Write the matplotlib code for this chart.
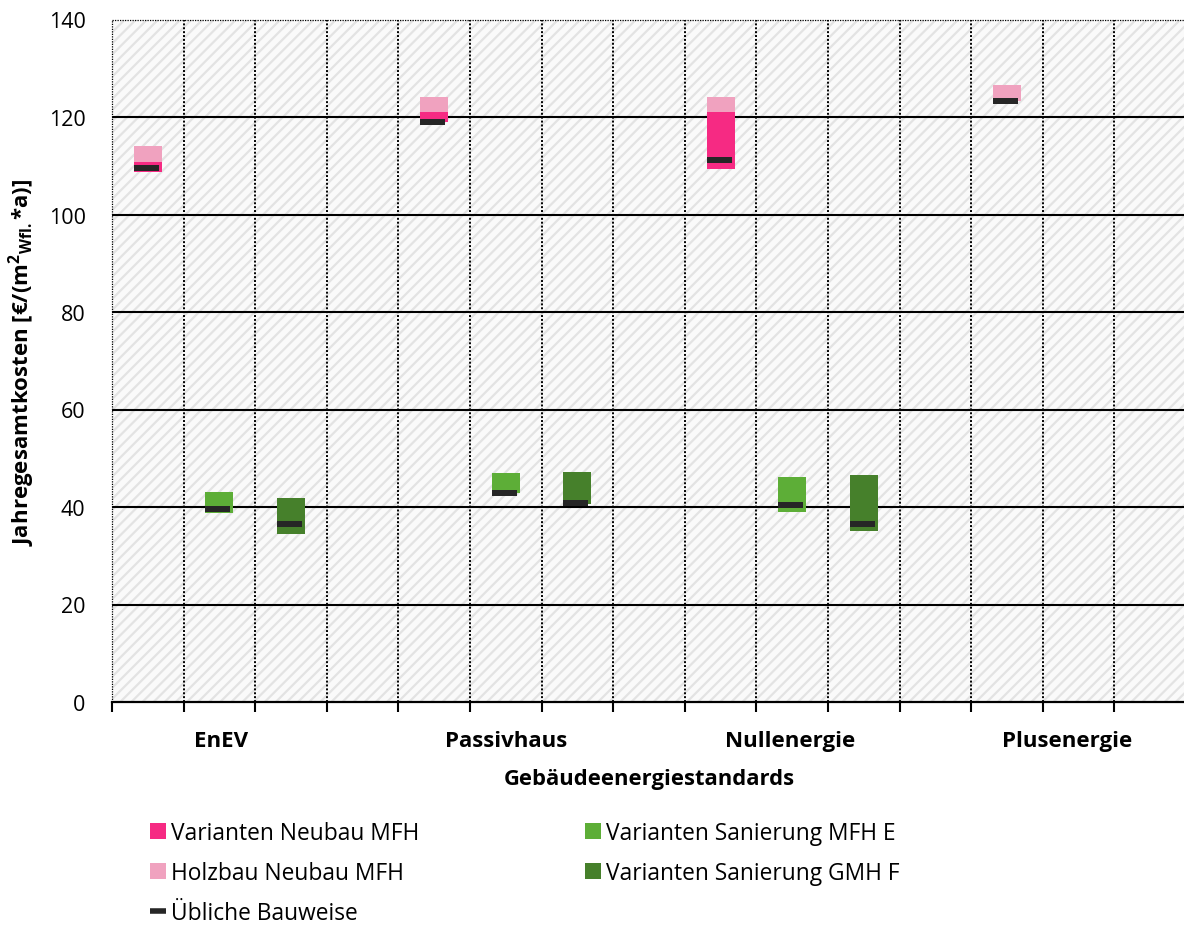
import matplotlib
matplotlib.use("Agg")
import matplotlib.pyplot as plt
import matplotlib.transforms as mtransforms
from matplotlib.patches import Rectangle, Patch
from matplotlib.lines import Line2D
import numpy as np

plt.rcParams['font.family'] = ['Open Sans', 'DejaVu Sans']
plt.rcParams['mathtext.fontset'] = 'custom'
plt.rcParams['mathtext.rm'] = 'Open Sans:bold'
plt.rcParams['mathtext.bf'] = 'Open Sans:bold'
plt.rcParams['hatch.linewidth'] = 1.6

# Building energy standards (x groups)
standards = ["EnEV", "Passivhaus", "Nullenergie", "Plusenergie"]

# Annual total costs in EUR/(m2 living area * a): ranges [low, high] per standard
neubau_lo = [108.7, 119.0, 109.3, np.nan]
neubau_hi = [110.8, 121.0, 121.0, np.nan]
holzbau_lo = [110.8, 121.0, 121.0, 123.3]
holzbau_hi = [114.0, 124.2, 124.2, 126.6]
san_mfh_lo = [38.7, 42.9, 39.0, np.nan]
san_mfh_hi = [43.0, 46.9, 46.1, np.nan]
san_gmh_lo = [34.4, 40.6, 35.1, np.nan]
san_gmh_hi = [41.8, 47.2, 46.5, np.nan]

# Conventional construction reference values
ueblich_neubau = [109.5, 119.0, 111.2, 123.3]
ueblich_mfh = [39.6, 42.9, 40.4, np.nan]
ueblich_gmh = [36.5, 40.8, 36.6, np.nan]

c_neubau = "#F62A83"
c_holz = "#F0A2BF"
c_mfh = "#5DAE37"
c_gmh = "#46802B"
c_mark = "#262626"

fig = plt.figure(figsize=(11.84, 9.29), dpi=100)
W, H = 1184, 929
ax_left, ax_right, ax_top, ax_bottom = 112, 1184, 20.5, 703
ax = fig.add_axes([ax_left / W, 1 - ax_bottom / H,
                   (ax_right - ax_left) / W, (ax_bottom - ax_top) / H])

slot_px = 71.6
ax.set_xlim(0, (ax_right - ax_left) / slot_px)
ax.set_ylim(0, 140)

# hatched plot background
ax.patch.set_visible(False)
bg = Rectangle((0, 0), 1, 1, transform=ax.transAxes, facecolor="#fafafa",
               edgecolor="#e3e3e3", hatch="///", lw=0, zorder=0)
ax.add_patch(bg)

# grid
for yv in range(20, 140, 20):
    ax.axhline(yv, color="black", lw=1.5, zorder=1)
for xv in range(1, 15):
    ax.axvline(xv, color="black", lw=1.4, ls=(0, (1, 1)), zorder=1)
ax.axvline(0, color="black", lw=0.9, ls=(0, (1, 1)), zorder=1, clip_on=False)
ax.axhline(140, color="black", lw=0.9, ls=(0, (1, 1)), zorder=1, clip_on=False)

bw = 0.39
mw = 0.35
mh = 1.2


def range_bars(xs, lo, hi, color, z):
    lo = np.array(lo, dtype=float)
    hi = np.array(hi, dtype=float)
    ok = ~np.isnan(lo)
    ax.bar(np.array(xs)[ok], (hi - lo)[ok], bottom=lo[ok], width=bw,
           color=color, zorder=z)


def markers(xs, vals):
    vals = np.array(vals, dtype=float)
    ok = ~np.isnan(vals)
    ax.bar(np.array(xs)[ok] - 0.02, mh, bottom=vals[ok] - mh / 2, width=mw,
           color=c_mark, zorder=5)


group_start = np.arange(len(standards)) * 4
x_neubau = group_start + 0.5
x_mfh = group_start + 1.5
x_gmh = group_start + 2.5

range_bars(x_neubau, holzbau_lo, holzbau_hi, c_holz, 3)
range_bars(x_neubau, neubau_lo, neubau_hi, c_neubau, 4)
range_bars(x_mfh, san_mfh_lo, san_mfh_hi, c_mfh, 4)
range_bars(x_gmh, san_gmh_lo, san_gmh_hi, c_gmh, 4)
markers(x_neubau, ueblich_neubau)
markers(x_mfh, ueblich_mfh)
markers(x_gmh, ueblich_gmh)

# axes styling
for s in ["top", "right", "left"]:
    ax.spines[s].set_visible(False)
ax.spines["bottom"].set_linewidth(1.6)
ax.spines["bottom"].set_zorder(6)
ax.set_xticks(np.arange(0, 15))
ax.set_xticklabels([])
ax.tick_params(axis="x", direction="out", length=7.5, width=1.5, color="black")
ax.set_yticks(np.arange(0, 141, 20))
ax.tick_params(axis="y", length=0, pad=19, labelsize=15.5)

# group labels under the axis
label_x = [1.52, 5.5, 9.47, 13.34]
trans = mtransforms.blended_transform_factory(ax.transData, fig.transFigure)
for xl, name in zip(label_x, standards):
    ax.text(xl, 1 - 742 / H, name, transform=trans, ha="center", va="center",
            fontsize=16, fontweight="bold")
fig.text(649 / W, 1 - 780 / H, "Gebäudeenergiestandards",
         ha="center", va="center", fontsize=15.8, fontweight="bold")

fig.text(22 / W, 1 - 362 / H,
         r"Jahregesamtkosten [€/(m$^{2}$$_{\mathrm{Wfl.}}$*a)]",
         rotation=90, ha="center", va="center", fontsize=16,
         fontweight="bold")

# legend in two columns
left_items = [
    Patch(facecolor=c_neubau, edgecolor="none"),
    Patch(facecolor=c_holz, edgecolor="none"),
    Line2D([0], [0], color=c_mark, lw=4, solid_capstyle="butt"),
]
left_labels = ["Varianten Neubau MFH", "Holzbau Neubau MFH", "Übliche Bauweise"]
right_items = [
    Patch(facecolor=c_mfh, edgecolor="none"),
    Patch(facecolor=c_gmh, edgecolor="none"),
]
right_labels = ["Varianten Sanierung MFH E", "Varianten Sanierung GMH F"]

common = dict(frameon=False, fontsize=16.4, handlelength=0.72, handleheight=0.72,
              handletextpad=0.22, labelspacing=0.71, borderaxespad=0,
              borderpad=0, loc="upper left")
leg1 = fig.legend(left_items, left_labels,
                  bbox_to_anchor=(150 / W, 1 - 822 / H), **common)
leg2 = fig.legend(right_items, right_labels,
                  bbox_to_anchor=(585 / W, 1 - 822 / H), **common)

fig.savefig("out.png", dpi=100)
